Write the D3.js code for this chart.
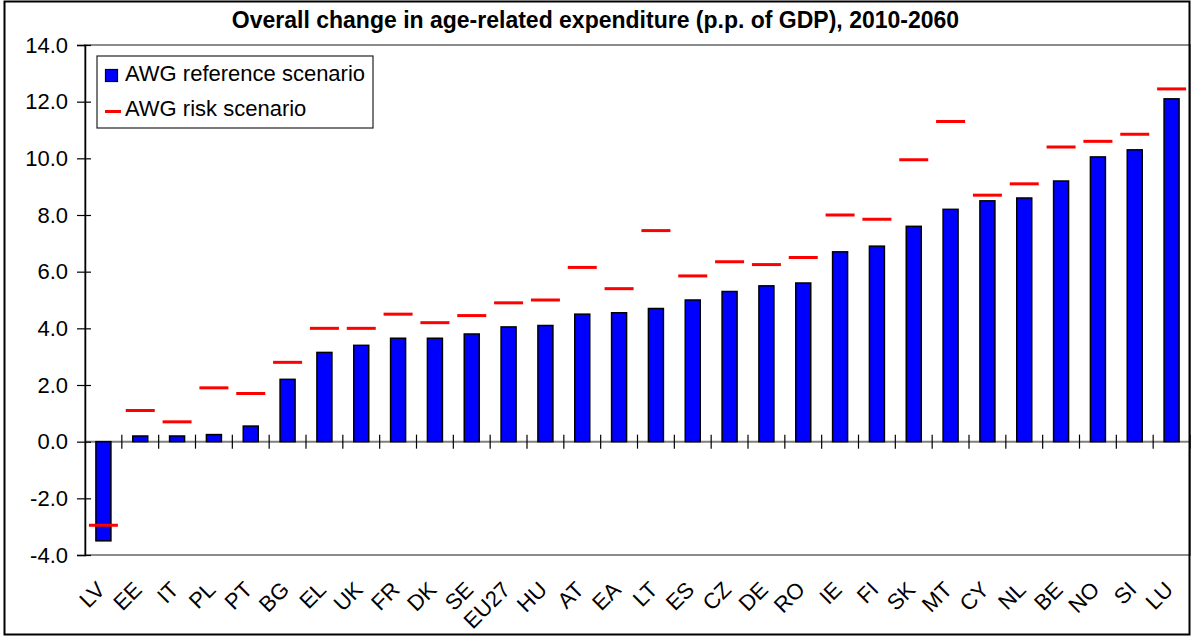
<!DOCTYPE html>
<html><head><meta charset="utf-8">
<script src="https://cdn.jsdelivr.net/npm/d3@7"></script>
<style>
html,body{margin:0;padding:0;background:#fff;}
svg{display:block;font-family:Arial,"Liberation Sans",sans-serif;}
.xl{text-rendering:geometricPrecision;font-family:"Liberation Sans",Arial,sans-serif;}
</style></head>
<body><svg id="c" width="1191" height="636"></svg>
<script>
const categories = ["LV","EE","IT","PL","PT","BG","EL","UK","FR","DK","SE","EU27","HU","AT","EA","LT","ES","CZ","DE","RO","IE","FI","SK","MT","CY","NL","BE","NO","SI","LU"];
const referenceScenario = [-3.5,0.2,0.2,0.25,0.55,2.2,3.15,3.4,3.65,3.65,3.8,4.05,4.1,4.5,4.55,4.7,5.0,5.3,5.5,5.6,6.7,6.9,7.6,8.2,8.5,8.6,9.2,10.05,10.3,12.1];
const riskScenario = [-2.95,1.1,0.7,1.9,1.7,2.8,4.0,4.0,4.5,4.2,4.45,4.9,5.0,6.15,5.4,7.45,5.85,6.35,6.25,6.5,8.0,7.85,9.95,11.3,8.7,9.1,10.4,10.6,10.85,12.45];
const yTicks = [-4,-2,0,2,4,6,8,10,12,14];
const title = "Overall change in age-related expenditure (p.p. of GDP), 2010-2060";
const seriesNames = ["AWG reference scenario","AWG risk scenario"];

const svg = d3.select("#c");
const W = 1191, H = 636;
const plot = {left:85, right:1190, top:45, bottom:555};
const FS = 22;

const x = d3.scaleBand().domain(categories).range([plot.left, plot.right]).padding(0);
const y = d3.scaleLinear().domain([-4,14]).range([plot.bottom, plot.top]);
const fmt = d3.formatLocale({decimal:".",thousands:",",grouping:[3],currency:["",""],minus:"-"}).format(".1f");

// plot area border
svg.append("rect").attr("x",plot.left).attr("y",plot.top)
  .attr("width",plot.right-plot.left).attr("height",plot.bottom-plot.top)
  .attr("fill","none").attr("stroke","#8c8c8c").attr("stroke-width",2);

// title
svg.append("text").attr("x",W/2).attr("y",28).attr("text-anchor","middle")
  .attr("font-size",23).attr("font-weight","bold").attr("fill","#000").text(title);

// zero line
svg.append("line").attr("x1",plot.left).attr("x2",plot.right)
  .attr("y1",y(0)).attr("y2",y(0)).attr("stroke","#7f7f7f").attr("stroke-width",2);

// category boundary ticks
const bounds = categories.map(c=>x(c)).concat([plot.right]);
svg.append("g").selectAll("line").data(bounds.slice(1)).join("line")
  .attr("x1",d=>d).attr("x2",d=>d).attr("y1",y(0)-7).attr("y2",y(0)+7)
  .attr("stroke","#000").attr("stroke-width",1.2);

// bars
const bw = 15;
svg.append("g").selectAll("rect").data(categories).join("rect")
  .attr("x",(c)=>x(c)+x.bandwidth()/2-bw/2)
  .attr("width",bw)
  .attr("y",(c,i)=>Math.min(y(referenceScenario[i]),y(0)))
  .attr("height",(c,i)=>Math.abs(y(referenceScenario[i])-y(0)))
  .attr("fill","#0000ff").attr("stroke","#000").attr("stroke-width",1.5);

// risk dashes
const dw = 29;
svg.append("g").selectAll("line").data(categories).join("line")
  .attr("x1",c=>x(c)+x.bandwidth()/2-dw/2)
  .attr("x2",c=>x(c)+x.bandwidth()/2+dw/2)
  .attr("y1",(c,i)=>y(riskScenario[i])).attr("y2",(c,i)=>y(riskScenario[i]))
  .attr("stroke","#ff0000").attr("stroke-width",3);

// y axis
const yAxis = d3.axisLeft(y).tickValues(yTicks).tickFormat(fmt).tickSize(8).tickPadding(9);
const gy = svg.append("g").attr("transform",`translate(${plot.left},0)`).call(yAxis);
gy.select(".domain").attr("stroke","#000").attr("stroke-width",1.5);
gy.selectAll(".tick line").attr("x1",6).attr("stroke","#000").attr("stroke-width",1.2);
gy.selectAll(".tick text").attr("font-size",FS).attr("fill","#000").attr("font-family","Arial, 'Liberation Sans', sans-serif");

// x labels (rotated)
const gx = svg.append("g");
gx.selectAll("text").data(categories).join("text")
  .attr("class","xl")
  .attr("transform",c=>`translate(${x(c)+x.bandwidth()/2+3},${plot.bottom+36}) rotate(-45)`)
  .attr("text-anchor","end")
  .attr("font-size",FS).attr("fill","#000")
  .text(c=>c);

// legend
const lg = svg.append("g");
lg.append("rect").attr("x",97).attr("y",56).attr("width",276).attr("height",72)
  .attr("fill","#fff").attr("stroke","#222").attr("stroke-width",1.2);
lg.append("rect").attr("x",105.5).attr("y",69.5).attr("width",12).attr("height",12)
  .attr("fill","#0000ff").attr("stroke","#000").attr("stroke-width",1.2);
lg.append("line").attr("x1",105).attr("x2",121).attr("y1",111.5).attr("y2",111.5)
  .attr("stroke","#ff0000").attr("stroke-width",3);
lg.selectAll("text").data(seriesNames).join("text")
  .attr("x",125).attr("y",(d,i)=>81+i*35).attr("font-size",FS).attr("fill","#000").text(d=>d);

// outer frame
svg.append("rect").attr("x",4.5).attr("y",1.5).attr("width",1185).attr("height",633)
  .attr("fill","none").attr("stroke","#000").attr("stroke-width",2);
</script></body></html>
